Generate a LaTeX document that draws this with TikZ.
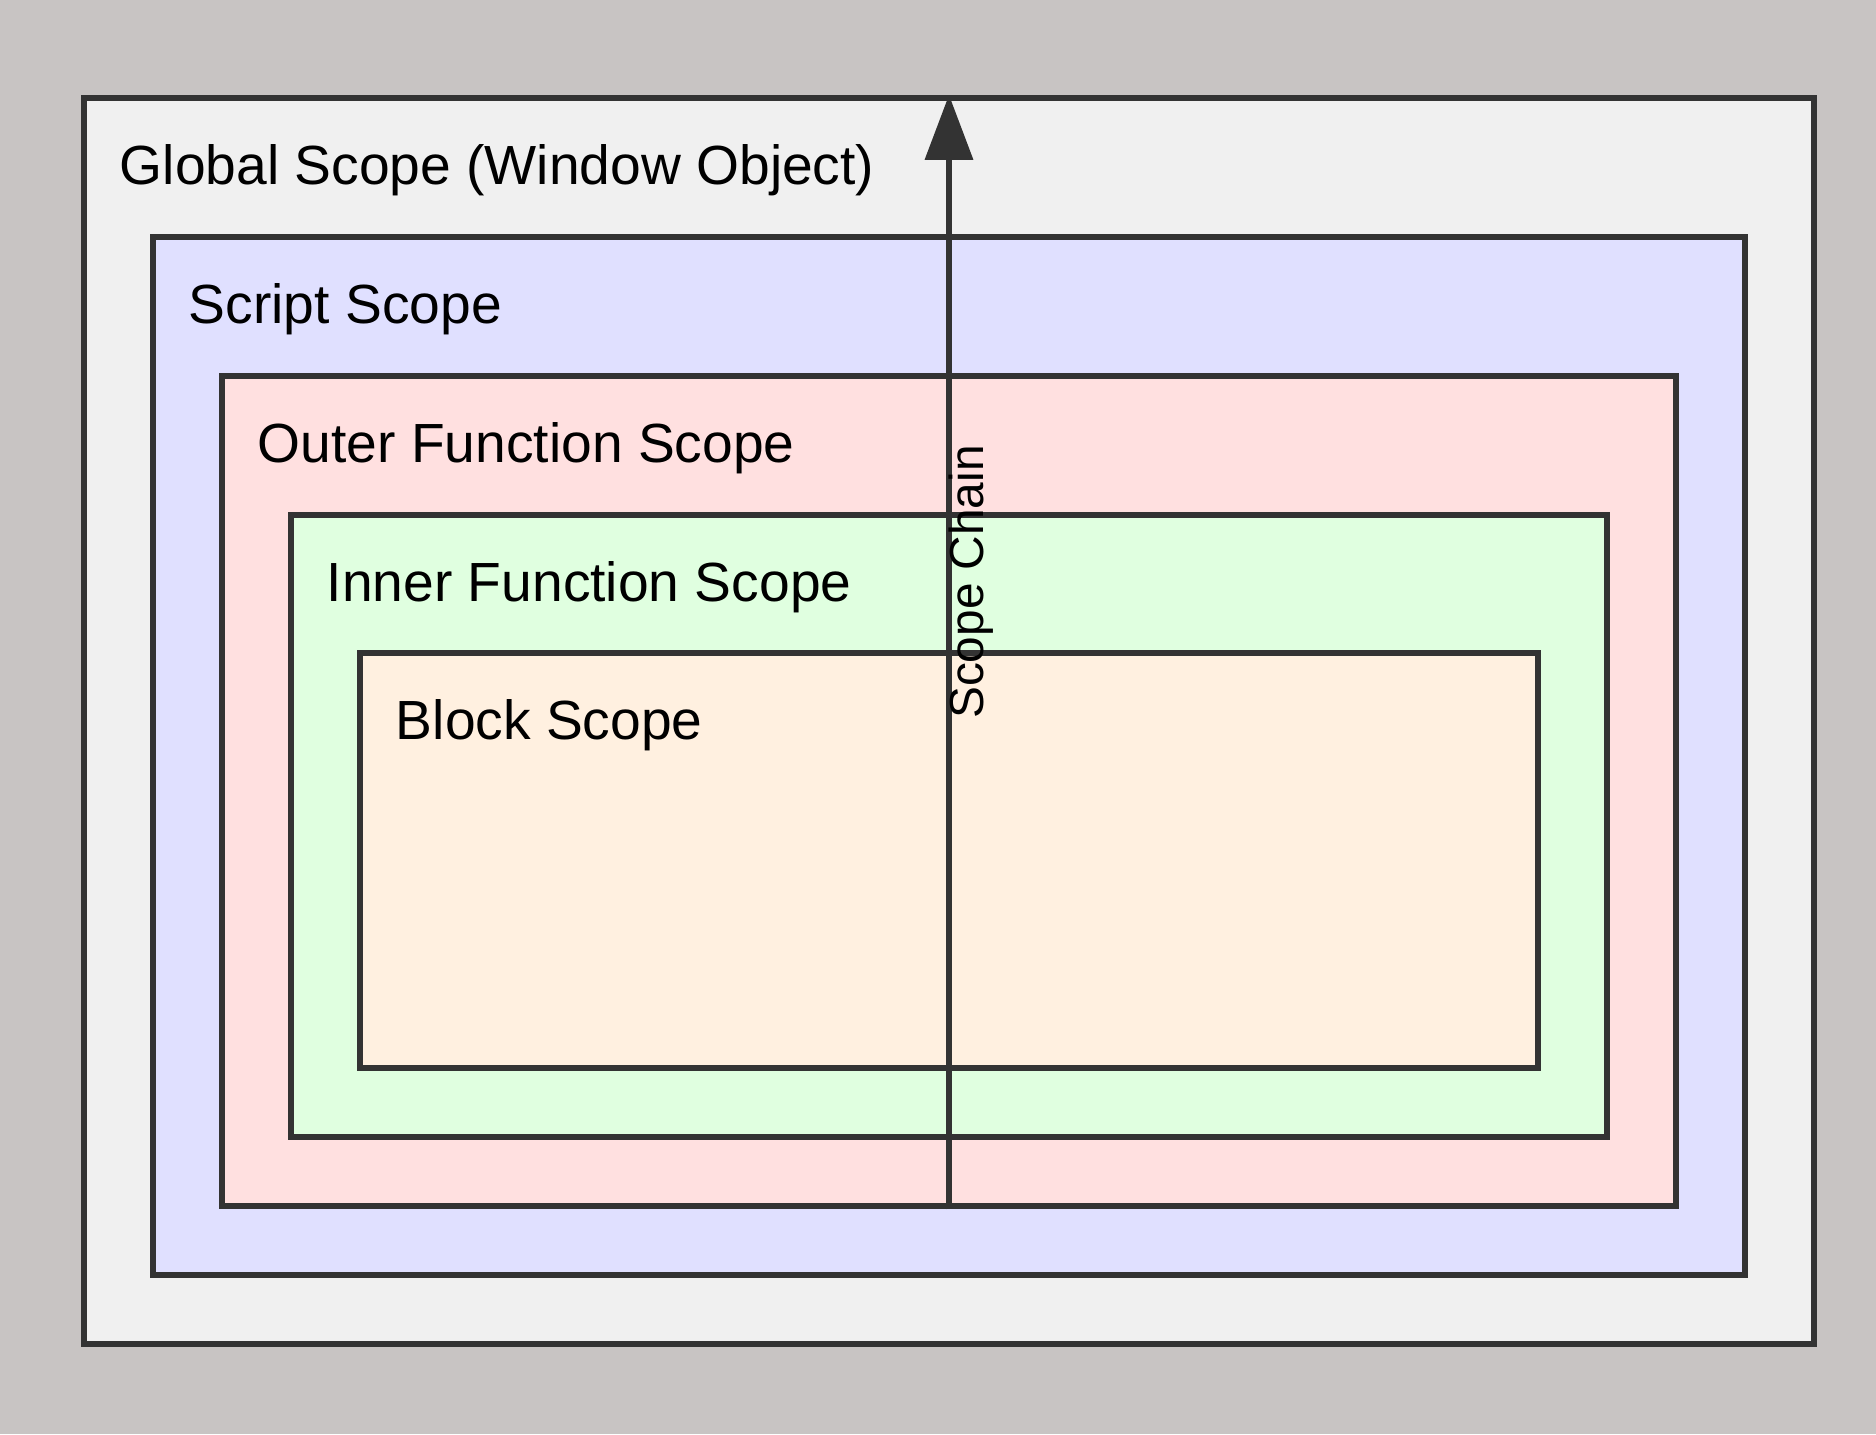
\documentclass[tikz,border=0pt]{standalone}
\usepackage{fontspec}
\setmainfont{Liberation Sans}
\usepackage{tikz}
\usetikzlibrary{arrows.meta,calc}
\definecolor{cBg}{HTML}{C8C4C3}
\definecolor{cLine}{HTML}{333333}
\definecolor{cGlobal}{HTML}{F0F0F0}
\definecolor{cScript}{HTML}{E0E0FF}
\definecolor{cOuter}{HTML}{FFE0E0}
\definecolor{cInner}{HTML}{E0FFE0}
\definecolor{cBlock}{HTML}{FFF0E0}
\tikzset{
  scopebox/.style={draw=cLine, line width=0.065cm, rectangle, inner sep=0pt},
  scopelbl/.style={font=\fontsize{15.7}{19}\selectfont, inner sep=0pt, anchor=west},
  chainarr/.style={-{Triangle[length=0.65cm, width=0.47cm]}, line width=0.065cm, cLine},
  chainlbl/.style={font=\fontsize{13.6}{16}\selectfont, inner sep=0pt}
}
\begin{document}
\begin{tikzpicture}
\fill[cBg] (0,0) rectangle (18.76,-14.34);
\useasboundingbox (0,0) rectangle (18.76,-14.34);
% nested scopes, outermost first
\node[scopebox, fill=cGlobal, minimum width=17.30cm, minimum height=12.46cm] (global) at (9.49,-7.21) {};
\node[scopebox, fill=cScript, minimum width=15.92cm, minimum height=10.38cm] (script) at (9.49,-7.56) {};
\node[scopebox, fill=cOuter, minimum width=14.54cm, minimum height=8.30cm] (outer) at (9.49,-7.91) {};
\node[scopebox, fill=cInner, minimum width=13.16cm, minimum height=6.22cm] (inner) at (9.49,-8.26) {};
\node[scopebox, fill=cBlock, minimum width=11.78cm, minimum height=4.15cm] (block) at (9.49,-8.605) {};
% titles
\node[scopelbl] (globalLbl) at ($(global.north west)+(0.385,-0.75)$) {Global Scope (Window Object)};
\node[scopelbl] (scriptLbl) at ($(script.north west)+(0.385,-0.75)$) {Script Scope};
\node[scopelbl] (outerLbl) at ($(outer.north west)+(0.385,-0.75)$) {Outer Function Scope};
\node[scopelbl] (innerLbl) at ($(inner.north west)+(0.385,-0.75)$) {Inner Function Scope};
\node[scopelbl] (blockLbl) at ($(block.north west)+(0.385,-0.75)$) {Block Scope};
% scope chain
\draw[chainarr] (outer.south) -- (global.north);
\node[chainlbl, rotate=90, anchor=base] (chainLbl) at (9.83,-5.82) {Scope Chain};
\end{tikzpicture}
\end{document}
